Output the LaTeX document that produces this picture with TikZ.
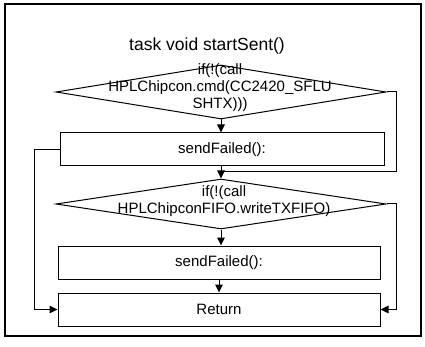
\documentclass[tikz,border=0pt]{standalone}
\usepackage{fontspec}
\setmainfont{Liberation Sans}
\usetikzlibrary{shapes.geometric,arrows.meta}
\tikzset{
  ln/.style={line width=1pt},
  arr/.style={ln,-{Triangle[length=8pt,width=7.5pt]}},
  dia/.style={diamond,draw,ln,inner sep=0pt},
  box/.style={rectangle,draw,ln,inner sep=0pt,font=\fontsize{15}{17}\selectfont},
  dtext/.style={align=center,inner sep=0pt,font=\fontsize{15}{17}\selectfont},
  ttl/.style={inner sep=0pt,font=\fontsize{17.5}{19}\selectfont}
}
\begin{document}
\begin{tikzpicture}[x=1pt,y=-1pt]
\useasboundingbox (0,0) rectangle (425,347);
\draw[line width=1.4pt] (5,4) rectangle (421,336);
\node[ttl] (title) at (207,46) {task void startSent()};
\node[dia,minimum width=330pt,minimum height=54pt] (d1) at (221,92) {};
\node[dtext] (t1) at (220,88) {if(!(call\\HPLChipcon.cmd(CC2420\_SFLU\\SHTX)))};
\node[box,minimum width=324pt,minimum height=33pt] (b1) at (222,149.5) {sendFailed():};
\coordinate (m1) at (221,172);
\node[dia,minimum width=330pt,minimum height=50pt] (d2) at (221,204) {};
\node[dtext] (t2) at (224,201) {if(!(call\\HPLChipconFIFO.writeTXFIFO)};
\node[box,minimum width=322pt,minimum height=33pt] (b2) at (219,262.5) {sendFailed():};
\node[box,minimum width=322pt,minimum height=33pt] (ret) at (219,309.5) {Return};
\draw[arr] (d1.south) -- (d1.south |- b1.north);
\draw[arr] (d1.south |- b1.south) -- (d2.north);
\draw[ln] (d1.east) -- ++(10,0) |- (m1);
\draw[arr] (d2.south) -- (d2.south |- b2.north);
\draw[arr] (b2.south) -- (ret.north);
\draw[arr] (b1.west) -- ++(-25,0) |- (ret.west);
\draw[arr] (d2.east) -- ++(10,0) |- (ret.east);
\end{tikzpicture}
\end{document}
